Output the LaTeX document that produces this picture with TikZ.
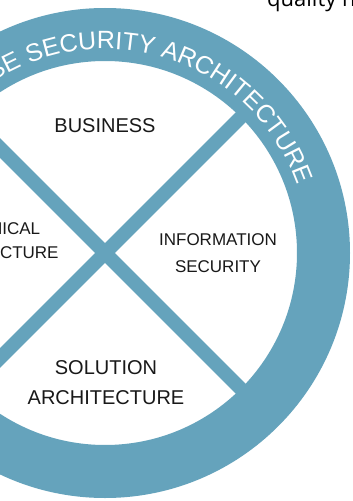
\documentclass[tikz,border=0pt]{standalone}
\usepackage{fontspec}
\setmainfont{Liberation Sans}
\newfontfamily\bodyfont{Open Sans}
\usetikzlibrary{decorations.text}
\definecolor{ringblue}{RGB}{101,163,188}
\begin{document}
\begin{tikzpicture}[x=1pt,y=1pt,
	bar/.style={ringblue,line width=14pt},
	part/.style={align=center,text=black!90,font=\fontsize{17}{27}\selectfont}]
	\useasboundingbox (-105,-248) rectangle (248,253);
	\clip (-105,-248) rectangle (248,253);
	\fill[white] (-105,-248) rectangle (248,253);
	% ring and cross
	\fill[ringblue,even odd rule] (0,0) circle (245pt) (0,0) circle (192pt);
	\draw[bar] (135:200pt) -- (-45:200pt);
	\draw[bar] (45:200pt) -- (-135:200pt);
	\path[decorate,decoration={text along path,text align=center,text color=white,
		text={|\fontsize{25}{25}\selectfont|ENTERPRISE SECURITY ARCHITECTURE}}]
		(160:204pt) arc (160:18:204pt);
	% the four parts
	\node[part,font=\fontsize{20}{30}\selectfont] (business) at (0,127) {BUSINESS};
	\node[part] (infosec) at (113,-0.5) {INFORMATION\\SECURITY};
	\node[part,font=\fontsize{20}{30}\selectfont] (solution) at (1,-130) {SOLUTION\\ARCHITECTURE};
	\node[part,font=\fontsize{17}{24}\selectfont] (technical) at (-113,12) {TECHNICAL\\ARCHITECTURE};
	%	\draw[dashed,thin] (business) -- (solution);
	\node[anchor=base west,inner sep=0pt,font=\bodyfont\fontsize{22}{26}\selectfont] (quality) at (162,246) {quality n};
\end{tikzpicture}
\end{document}
